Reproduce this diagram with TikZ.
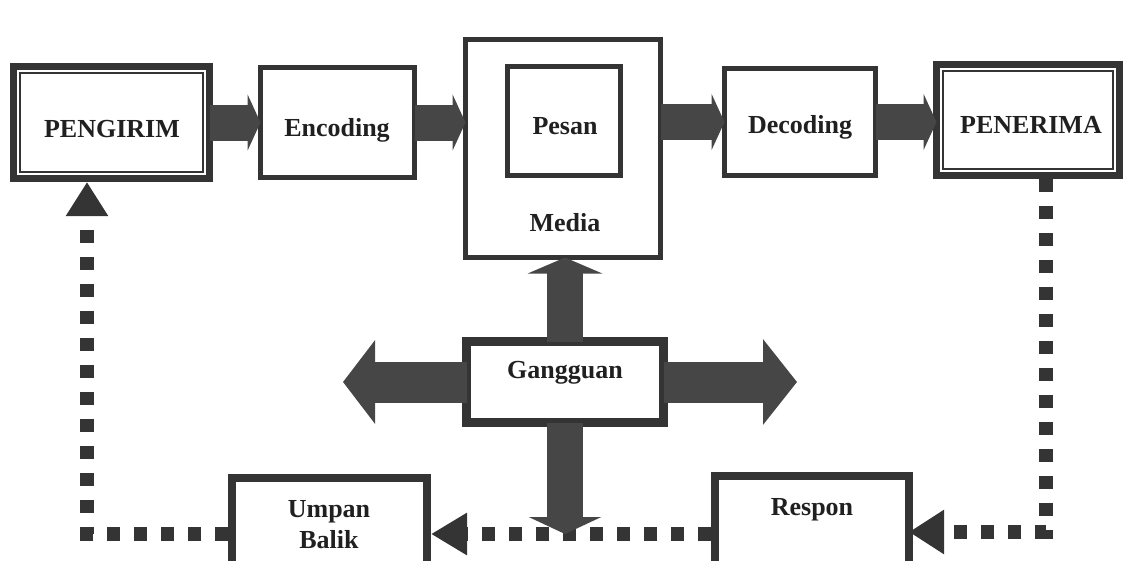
\documentclass[tikz,border=0pt]{standalone}
\usepackage{fontspec}
\setmainfont{Liberation Serif}
\usetikzlibrary{arrows.meta,calc}
\definecolor{ink}{RGB}{52,52,52}
\definecolor{fatc}{RGB}{70,70,70}
\definecolor{txt}{RGB}{32,32,32}
\begin{document}
\begin{tikzpicture}[x=1pt,y=-1pt,
  box/.style={draw=ink, line width=5pt, outer sep=0pt, inner sep=0pt, fill=white},
  bigbox/.style={box, line width=7pt},
  heavybox/.style={box, line width=8.5pt},
  lbl/.style={font=\bfseries\fontsize{26}{31}\selectfont, text=txt, anchor=base, inner sep=0pt, align=center},
  fatarrow/.style={draw=fatc, line width=36pt, -{Triangle[length=13pt,width=56pt]}},
  dots/.style={draw=ink, line width=14pt, dash pattern=on 13pt off 14pt}
]
\useasboundingbox (0,0) rectangle (1127,560);

% boxes
\node[bigbox, minimum width=196pt, minimum height=112pt] (png) at (111.5,122.5) {};
\draw[ink, line width=1.5pt] ([xshift=6.5pt,yshift=-6.5pt]png.north west) rectangle ([xshift=-6.5pt,yshift=6.5pt]png.south east);
\node[box, minimum width=154pt, minimum height=110pt] (enc) at (337.5,122.5) {};
\node[box, minimum width=195pt, minimum height=218pt] (media) at (563,148.5) {};
\node[box, minimum width=113pt, minimum height=109pt] (pesan) at (564,121) {};
\node[box, minimum width=151pt, minimum height=107pt] (dec) at (800,122) {};
\node[bigbox, minimum width=183pt, minimum height=111pt] (pen) at (1028,120) {};
\draw[ink, line width=1.5pt] ([xshift=6.5pt,yshift=-6.5pt]pen.north west) rectangle ([xshift=-6.5pt,yshift=6.5pt]pen.south east);
\node[heavybox, minimum width=197pt, minimum height=81pt] (gang) at (565,382) {};
\node[heavybox, minimum width=195pt, minimum height=122pt] (ub) at (329.5,539) {};
\node[heavybox, minimum width=194pt, minimum height=124pt] (resp) at (812,538) {};

% labels
\node[lbl] (tpng) at (112,137) {PENGIRIM};
\node[lbl] (tenc) at (337,136) {Encoding};
\node[lbl] (tpesan) at (565,134) {Pesan};
\node[lbl] (tmedia) at (565,231) {Media};
\node[lbl] (tdec) at (800,133) {Decoding};
\node[lbl] (tpen) at (1031,133) {PENERIMA};
\node[lbl] (tgang) at (565,378) {Gangguan};
\node[lbl] (tub) at (329,548) {Umpan\\Balik};
\node[lbl] (tresp) at (812,515) {Respon};

% free ends
\coordinate (gl) at (343,382);
\coordinate (gr) at (797,382);
\coordinate (gd) at (565,534);
\coordinate (c1) at (87,534);
\coordinate (c2) at (1046,532);

% main flow arrows
\draw[fatarrow] (png.east) -- (enc.west);
\draw[fatarrow] (enc.east) -- (enc.east -| media.west);
\draw[fatarrow] (media.east |- dec.west) -- (dec.west);
\draw[fatarrow] (dec.east) -- (dec.east -| pen.west);

% feedback dotted lines
\draw[dots, -{Triangle[length=35pt,width=42pt]}] ([yshift=-3.5pt]pen.south -| c2) -- (c2) -- (resp.east |- c2);
\draw[dots, -{Triangle[length=36pt,width=40pt]}] ([xshift=-4pt]resp.west |- c1) -- ([xshift=4pt]ub.east |- c1);
\draw[dots, -{Triangle[length=34pt,width=40pt]}] ([xshift=-4pt]ub.west |- c1) -- (c1) -- ([yshift=-3.5pt]png.south -| c1);

% noise arrows
\draw[fatarrow, -{Triangle[length=16pt,width=74pt]}] (gang.north) -- (gang.north |- media.south);
\draw[fatarrow, line width=41pt, -{Triangle[length=32pt,width=82pt]}] (gang.west) -- (gl);
\draw[fatarrow, line width=41pt, -{Triangle[length=34pt,width=84pt]}] (gang.east) -- (gr);
\draw[fatarrow, -{Triangle[length=17pt,width=72pt]}] (gang.south) -- (gd);
\end{tikzpicture}
\end{document}
